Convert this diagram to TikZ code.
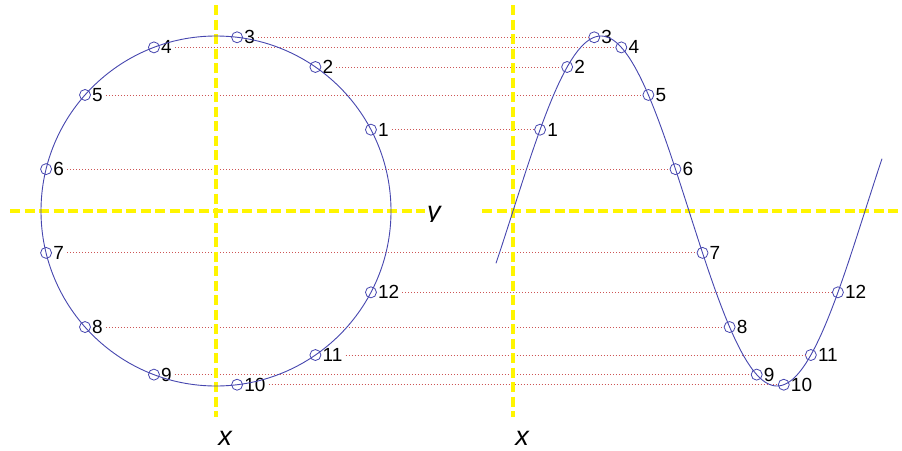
\documentclass[tikz,border=0pt]{standalone}
\usepackage{fontspec}
\setmainfont{Liberation Sans}
\definecolor{curveblue}{RGB}{70,70,175}
\definecolor{dotred}{RGB}{205,85,85}
\definecolor{axisyellow}{RGB}{255,245,0}
\tikzset{
  mk/.style={circle,draw=curveblue,line width=0.8pt,minimum size=11pt,inner sep=0pt},
  lbl/.style={anchor=west,inner sep=0pt,font=\fontsize{19}{21}\selectfont},
  proj/.style={dotred,line width=0.8pt,dash pattern=on 0.8pt off 2.2pt},
  axisline/.style={axisyellow,line width=4pt,dash pattern=on 10pt off 4.5pt},
  axislbl/.style={inner sep=0pt,font=\fontsize{27}{30}\selectfont\itshape},
  curve/.style={curveblue,line width=0.9pt}
}
\begin{document}
\begin{tikzpicture}[x=1pt,y=-1pt]
\useasboundingbox[fill=white] (0,0) rectangle (902,450);
% points, labels and projection lines
\foreach \k in {1,...,12} {
  \pgfmathsetmacro\t{360*\k/13}
  \pgfmathsetmacro\cx{216+175*cos(\t)}
  \pgfmathsetmacro\cy{211-175*sin(\t)}
  \pgfmathsetmacro\sx{513+352*\k/13}
  \node[mk] (c\k) at (\cx,\cy) {};
  \node[lbl] (l\k) at (\cx+7,\cy) {\k};
  \node[mk] (s\k) at (\sx,\cy) {};
  \node[lbl] (m\k) at (\sx+7,\cy) {\k};
  \draw[proj] ([xshift=3pt]l\k.east) -- (s\k.west);
}
% axes
\coordinate (lvt) at (216,5);  \coordinate (lvb) at (216,417);
\coordinate (lhl) at (10,211); \coordinate (lhr) at (425,211);
\coordinate (rvt) at (513,5);  \coordinate (rvb) at (513,417);
\coordinate (rhl) at (482,211); \coordinate (rhr) at (902,211);
\draw[axisline] (lvt) -- (lvb);
\draw[axisline] (lhl) -- (lhr);
\draw[axisline] (rvt) -- (rvb);
\draw[axisline] (rhl) -- (rhr);
% curves
\node[draw=curveblue,line width=0.9pt,circle,minimum size=350pt,inner sep=0pt] (circ) at (216,211) {};
\draw[curve] plot[domain=-17:369,samples=200,smooth] ({513+\x},{211-175*sin(\x*1.022727)});
% axis labels
\node[axislbl,anchor=base] (xl) at (225,445) {x};
\node[axislbl,anchor=base] (xr) at (522,445) {x};
\begin{scope}
  \clip (420,190) rectangle (460,221);
  \node[axislbl,anchor=base west] (yl) at (427,220) {y};
\end{scope}
\end{tikzpicture}
\end{document}
